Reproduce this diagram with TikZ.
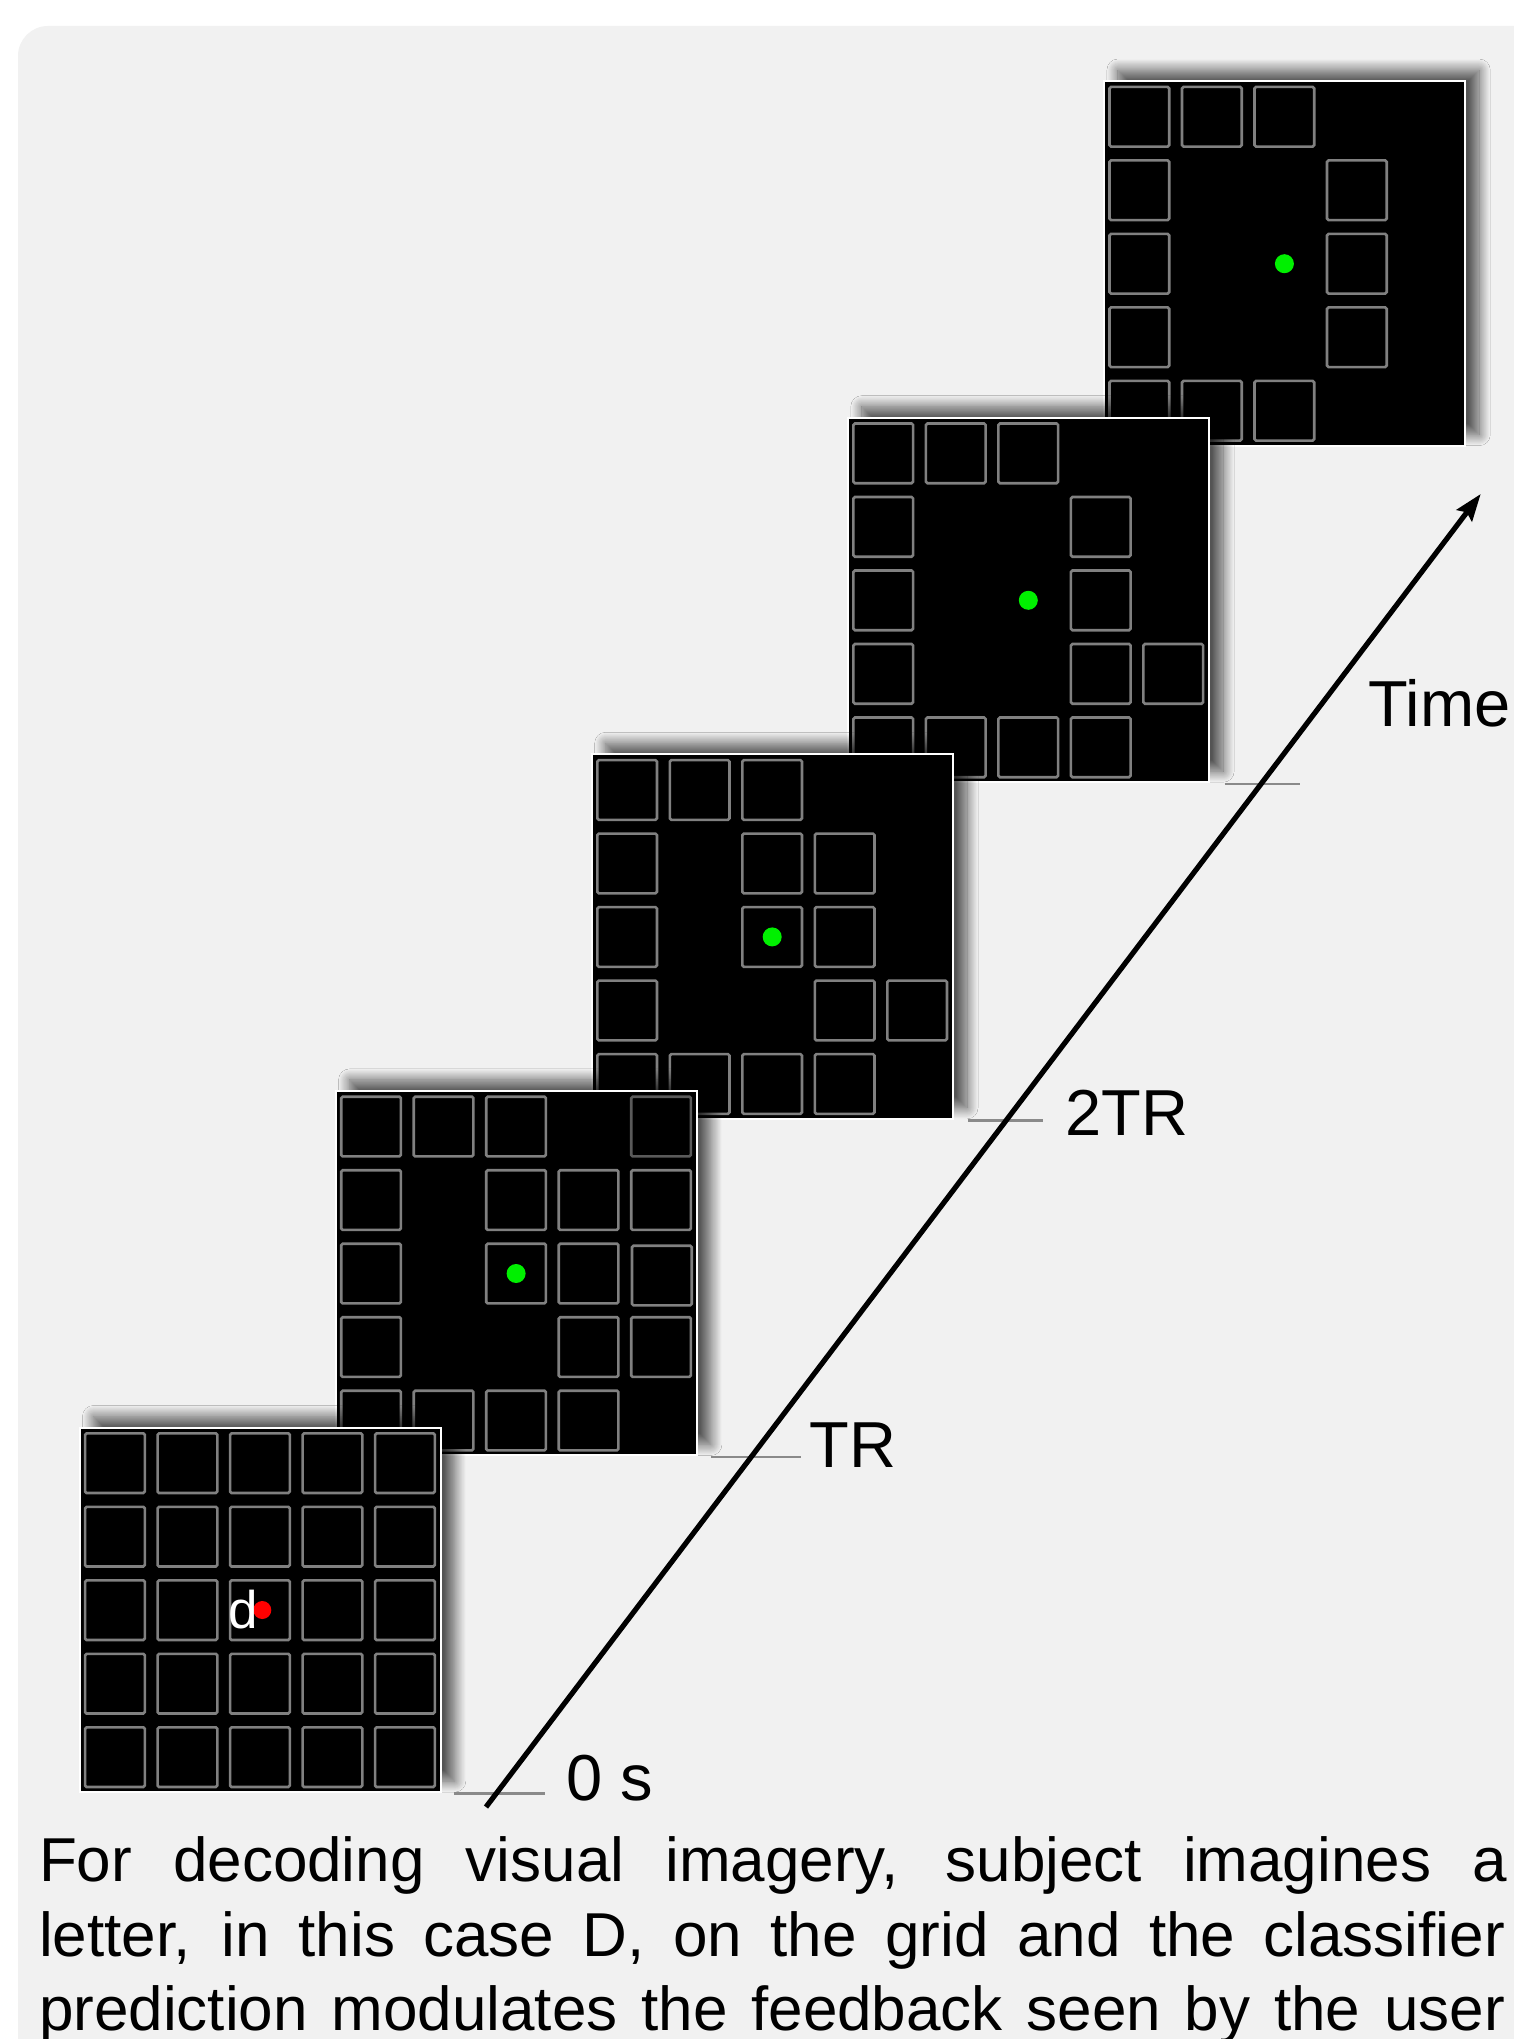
\documentclass[tikz,border=0pt]{standalone}
\usepackage{fontspec}
\setmainfont{Liberation Sans}
\usetikzlibrary{arrows.meta,shadows.blur}
\definecolor{bggray}{HTML}{F1F1F1}
\definecolor{cellgray}{HTML}{808080}
\definecolor{celldark}{HTML}{5A5A5A}
\definecolor{dotgreen}{HTML}{00F000}
\definecolor{dotred}{HTML}{FF0000}
\definecolor{tickgray}{HTML}{8A8A8A}

\tikzset{
  panelbox/.style={fill=black, draw=white, line width=2pt, minimum width=361.3pt,
    minimum height=364.5pt, inner sep=0pt, outer sep=0pt, anchor=north west,
    blur shadow={shadow xshift=14pt, shadow yshift=11pt, shadow blur radius=11pt,
      shadow blur steps=22, shadow opacity=65}},
  cellbox/.style={draw=cellgray, line width=2.6pt, rounded corners=1.5pt},
  celldim/.style={draw=celldark, line width=2.6pt, rounded corners=1.5pt},
  greendot/.style={fill=dotgreen},
  reddot/.style={fill=dotred},
  ticklin/.style={draw=tickgray, line width=2.9pt},
  timeaxis/.style={draw=black, line width=5.2pt, -{Stealth[length=27pt,width=19pt,inset=4pt]}},
  lbl/.style={anchor=base west, inner sep=0pt, outer sep=0pt, font=\fontsize{65}{78}\selectfont},
  captline/.style={anchor=base west, inner sep=0pt, outer sep=0pt, font=\fontsize{62}{75}\selectfont}
}

% #1 name, #2 left, #3 top, #4 list of col/row
\newcommand\gridpanel[4]{%
  \node[panelbox] (#1) at (#2+1,#3+1) {};
  \foreach \cc/\rr in {#4} {
    \draw[cellbox] ({#2+5.3+72.5*(\cc-1)+1.3},{#3+5.5+73.5*(\rr-1)+1.3}) rectangle ++(59.7,59.7);
  }
}

\begin{document}
\begin{tikzpicture}[x=1pt,y=-1pt]
\useasboundingbox (0,0) rectangle (1514,2039);
\clip (0,0) rectangle (1514,2039);
\fill[white] (0,0) rectangle (1514,2039);
\fill[bggray, rounded corners=30pt] (18,26) rectangle (1600,2120);

% panel 5 (top)
\gridpanel{p5}{1102.9}{80.1}{1/1,2/1,3/1,1/2,4/2,1/3,4/3,1/4,4/4,1/5,2/5,3/5}
\fill[greendot] (1102.9+181.5,80.1+183.6) circle (9.5);

% panel 4
\gridpanel{p4}{846.8}{416.7}{1/1,2/1,3/1,1/2,4/2,1/3,4/3,1/4,4/4,5/4,1/5,2/5,3/5,4/5}
\fill[greendot] (846.8+181.5,416.7+183.6) circle (9.5);

% panel 3
\gridpanel{p3}{590.7}{753.3}{1/1,2/1,3/1,1/2,3/2,4/2,1/3,3/3,4/3,1/4,4/4,5/4,1/5,2/5,3/5,4/5}
\fill[greendot] (590.7+181.5,753.3+183.6) circle (9.5);

% panel 2
\gridpanel{p2}{334.6}{1089.9}{1/1,2/1,3/1,1/2,3/2,4/2,5/2,1/3,3/3,4/3,1/4,4/4,5/4,1/5,2/5,3/5,4/5}
\draw[celldim] ({334.6+5.3+72.5*4+1.3},{1089.9+5.5+1.3}) rectangle ++(59.7,59.7);
\draw[cellbox] ({334.6+5.3+72.5*4+1.3+0.8},{1089.9+5.5+73.5*2+1.3+2}) rectangle ++(59.7,59.7);
\fill[greendot] (334.6+181.5,1089.9+183.6) circle (9.5);

% panel 1 (front)
\gridpanel{p1}{78.5}{1426.5}{1/1,2/1,3/1,4/1,5/1,1/2,2/2,3/2,4/2,5/2,1/3,2/3,3/3,4/3,5/3,1/4,2/4,3/4,4/4,5/4,1/5,2/5,3/5,4/5,5/5}
\fill[reddot] (262.3,1610) circle (9);
\node[anchor=base west, inner sep=0pt, text=white, font=\fontsize{53}{60}\selectfont] (dlet) at (228,1628) {d};

% time ticks
\coordinate (t0a) at (454,1793.3);   \coordinate (t0b) at (544.7,1793.3);
\coordinate (t1a) at (711.4,1457);   \coordinate (t1b) at (801.4,1457);
\coordinate (t2a) at (967.9,1120.7); \coordinate (t2b) at (1043.2,1120.7);
\coordinate (t3a) at (1224.7,784);   \coordinate (t3b) at (1300,784);
\draw[ticklin] (t0a) -- (t0b);
\draw[ticklin] (t1a) -- (t1b);
\draw[ticklin] (t2a) -- (t2b);
\draw[ticklin] (t3a) -- (t3b);

% time axis
\coordinate (axstart) at (486,1807);
\coordinate (axend) at (1480.7,494);
\draw[timeaxis] (axstart) -- (axend);

% labels
\node[lbl] (l0) at (566,1800) {0 s};
\node[lbl] (l1) at (809.5,1467.3) {TR};
\node[lbl] (l2) at (1065.5,1135) {2TR};
\node[lbl] (l3) at (1368.5,726) {Time};

% caption
\node[captline] (c1) at (39,1881) {\makebox[1468pt][s]{For decoding visual imagery, subject imagines a}};
\node[captline] (c2) at (39,1956.7) {\makebox[1466pt][s]{letter, in this case D, on the grid and the classifier}};
\node[captline] (c3) at (39,2030) {\makebox[1466pt][s]{prediction modulates the feedback seen by the user}};
\end{tikzpicture}
\end{document}
